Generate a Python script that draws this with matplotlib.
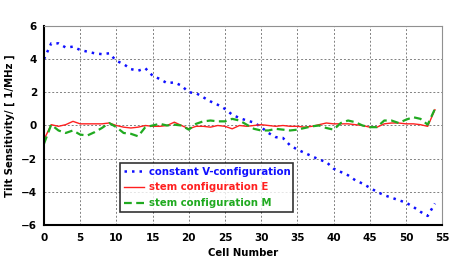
import matplotlib.pyplot as plt

cells = list(range(55))

constant_v = [4.0, 4.95, 4.95, 4.7, 4.75, 4.55, 4.45, 4.35, 4.3, 4.35,
              3.9, 3.7, 3.4, 3.3, 3.45, 3.0, 2.8, 2.55, 2.6, 2.4,
              2.0, 1.95, 1.7, 1.45, 1.25, 1.0, 0.65, 0.45, 0.3, 0.18,
              -0.1, -0.45, -0.7, -0.75, -1.2, -1.45, -1.65, -1.85, -2.05, -2.2,
              -2.6, -2.8, -3.0, -3.3, -3.5, -3.75, -4.0, -4.2, -4.35, -4.5,
              -4.65, -4.9, -5.2, -5.45, -4.7]

stem_e = [-0.85, 0.05, -0.05, 0.05, 0.25, 0.1, 0.1, 0.1, 0.1, 0.15,
          0.0, -0.1, -0.15, -0.1, 0.0, -0.05, -0.05, 0.0, 0.2, 0.0,
          -0.2, -0.05, -0.05, -0.1, 0.0, -0.05, -0.2, 0.0, -0.05, 0.0,
          0.05, 0.0, -0.05, 0.0, -0.05, -0.05, -0.1, -0.05, 0.05, 0.15,
          0.1, 0.1, 0.1, 0.05, 0.0, -0.1, -0.1, 0.1, 0.15, 0.15,
          0.1, 0.1, 0.05, -0.05, 0.95]

stem_m = [-1.1, 0.05, -0.3, -0.45, -0.3, -0.55, -0.6, -0.4, -0.15, 0.15,
          -0.1, -0.45, -0.5, -0.65, -0.1, 0.0, 0.1, 0.0, 0.05, 0.0,
          -0.25, 0.1, 0.25, 0.3, 0.25, 0.25, 0.4, 0.3, 0.05, -0.2,
          -0.3, -0.3, -0.2, -0.25, -0.3, -0.25, -0.15, -0.05, 0.0, -0.15,
          -0.25, 0.15, 0.3, 0.2, 0.0, -0.1, -0.1, 0.3, 0.3, 0.15,
          0.35, 0.5, 0.4, 0.05, 1.0]

plt.rcParams['font.family'] = 'DejaVu Sans'
plt.rcParams['font.weight'] = 'bold'

fig = plt.figure(figsize=(4.63, 2.62), dpi=100)
ax = fig.add_axes([0.095, 0.141, 0.86, 0.76])

ax.plot(cells, constant_v, color='#1010ff', linewidth=1.8, linestyle=(0, (1, 2)),
        label="constant V-configuration")
ax.plot(cells, stem_e, color='#ff2020', linewidth=1.0, label="stem configuration E")
ax.plot(cells, stem_m, color='#20aa20', linewidth=1.6, linestyle=(0, (3.5, 2)),
        label="stem configuration M")

ax.set_xlim(0, 55)
ax.set_ylim(-6, 6)
ax.set_xticks(range(0, 56, 5))
ax.set_yticks(range(-6, 7, 2))
ax.tick_params(axis='x', labelsize=7.5, length=0, pad=6)
ax.tick_params(axis='y', labelsize=7.5, length=0, pad=5)
for lbl in ax.get_xticklabels() + ax.get_yticklabels():
    lbl.set_fontweight('bold')

ax.grid(True, color='#808080', linestyle=(0, (2, 2)), linewidth=0.7)
ax.spines['left'].set_color('black')
ax.spines['left'].set_linewidth(1.5)
ax.spines['bottom'].set_color('black')
ax.spines['bottom'].set_linewidth(1.5)
ax.spines['top'].set_color('#909090')
ax.spines['right'].set_color('#909090')

ax.set_xlabel("Cell Number", fontsize=7.3, fontweight='bold', labelpad=3)
ax.set_ylabel("Tilt Sensitivity/ [ 1/MHz ]", fontsize=7.3, fontweight='bold', labelpad=4)

leg = ax.legend(loc='lower left', bbox_to_anchor=(0.19, 0.065, 0.436, 0.265),
                mode='expand', fontsize=7.3, frameon=True, fancybox=False,
                edgecolor='black', labelcolor='linecolor', handlelength=2.0,
                handletextpad=0.5, borderaxespad=0, labelspacing=0.55)
leg.get_frame().set_linewidth(1.2)
for t in leg.get_texts():
    t.set_fontweight('bold')

fig.savefig("out.png", dpi=100)
